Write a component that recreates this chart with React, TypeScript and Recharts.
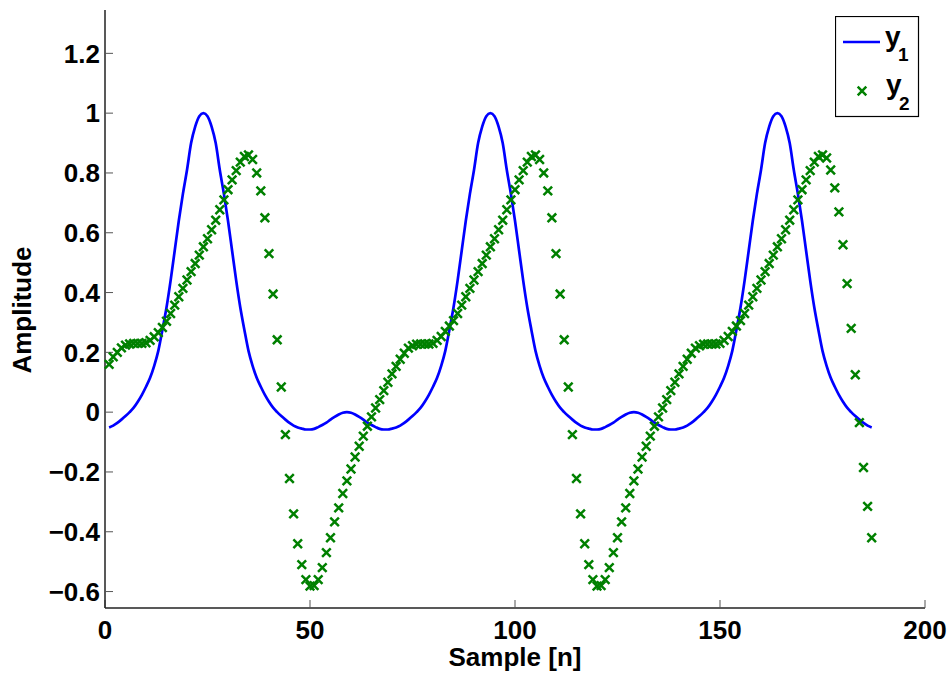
import { ComposedChart, Line, Scatter, XAxis, YAxis, Legend, Label } from 'recharts';

// y1: smooth pulse train (blue line), sample n = 1..187
const y1Values = [
  -0.051, -0.045, -0.036, -0.025, -0.013, 0.0, 0.015, 0.035, 0.058, 0.085,
  0.115, 0.155, 0.205, 0.275, 0.35, 0.44, 0.54, 0.64, 0.73, 0.81,
  0.9, 0.955, 0.99, 1.0, 0.99, 0.955, 0.9, 0.81, 0.73, 0.64,
  0.54, 0.44, 0.35, 0.275, 0.205, 0.155, 0.115, 0.085, 0.058, 0.035,
  0.015, 0.0, -0.013, -0.025, -0.036, -0.045, -0.051, -0.055, -0.058, -0.058,
  -0.056, -0.05, -0.043, -0.035, -0.025, -0.016, -0.008, -0.002, 0.0, -0.002,
  -0.008, -0.016, -0.025, -0.035, -0.043, -0.05, -0.056, -0.058, -0.058, -0.055,
  -0.051, -0.045, -0.036, -0.025, -0.013, 0.0, 0.015, 0.035, 0.058, 0.085,
  0.115, 0.155, 0.205, 0.275, 0.35, 0.44, 0.54, 0.64, 0.73, 0.81,
  0.9, 0.955, 0.99, 1.0, 0.99, 0.955, 0.9, 0.81, 0.73, 0.64,
  0.54, 0.44, 0.35, 0.275, 0.205, 0.155, 0.115, 0.085, 0.058, 0.035,
  0.015, 0.0, -0.013, -0.025, -0.036, -0.045, -0.051, -0.055, -0.058, -0.058,
  -0.056, -0.05, -0.043, -0.035, -0.025, -0.016, -0.008, -0.002, 0.0, -0.002,
  -0.008, -0.016, -0.025, -0.035, -0.043, -0.05, -0.056, -0.058, -0.058, -0.055,
  -0.051, -0.045, -0.036, -0.025, -0.013, 0.0, 0.015, 0.035, 0.058, 0.085,
  0.115, 0.155, 0.205, 0.275, 0.35, 0.44, 0.54, 0.64, 0.73, 0.81,
  0.9, 0.955, 0.99, 1.0, 0.99, 0.955, 0.9, 0.81, 0.73, 0.64,
  0.54, 0.44, 0.35, 0.275, 0.205, 0.155, 0.115, 0.085, 0.058, 0.035,
  0.015, 0.0, -0.013, -0.025, -0.036, -0.045, -0.051,
];

// y2: filtered output (green crosses), sample n = 1..187
const y2Values = [
  0.16, 0.185, 0.2, 0.215, 0.224, 0.228, 0.23, 0.23, 0.23, 0.232,
  0.24, 0.252, 0.266, 0.283, 0.304, 0.33, 0.358, 0.386, 0.414, 0.442,
  0.47, 0.497, 0.525, 0.553, 0.58, 0.61, 0.642, 0.677, 0.71, 0.744,
  0.777, 0.808, 0.836, 0.855, 0.86, 0.845, 0.8, 0.74, 0.65, 0.53,
  0.395, 0.242, 0.084, -0.075, -0.222, -0.34, -0.44, -0.51, -0.56, -0.582,
  -0.58, -0.56, -0.52, -0.47, -0.42, -0.367, -0.32, -0.272, -0.23, -0.19,
  -0.15, -0.114, -0.08, -0.047, -0.016, 0.014, 0.042, 0.072, 0.1, 0.128,
  0.153, 0.177, 0.197, 0.214, 0.222, 0.227, 0.228, 0.228, 0.228, 0.23,
  0.24, 0.253, 0.27, 0.288, 0.306, 0.33, 0.358, 0.386, 0.414, 0.442,
  0.47, 0.497, 0.525, 0.553, 0.58, 0.61, 0.642, 0.677, 0.71, 0.744,
  0.777, 0.808, 0.836, 0.855, 0.86, 0.845, 0.8, 0.74, 0.65, 0.53,
  0.395, 0.242, 0.084, -0.075, -0.222, -0.34, -0.44, -0.51, -0.56, -0.582,
  -0.58, -0.56, -0.52, -0.47, -0.42, -0.367, -0.32, -0.272, -0.23, -0.19,
  -0.15, -0.114, -0.08, -0.047, -0.016, 0.014, 0.042, 0.072, 0.1, 0.128,
  0.153, 0.177, 0.197, 0.214, 0.222, 0.227, 0.228, 0.228, 0.228, 0.23,
  0.24, 0.253, 0.27, 0.288, 0.306, 0.33, 0.358, 0.386, 0.414, 0.442,
  0.47, 0.497, 0.525, 0.553, 0.58, 0.61, 0.642, 0.677, 0.71, 0.744,
  0.777, 0.808, 0.836, 0.855, 0.86, 0.85, 0.81, 0.75, 0.67, 0.56,
  0.43, 0.28, 0.125, -0.035, -0.185, -0.315, -0.42,
];

const xTicks = [0, 50, 100, 150, 200];
const yTicks = [-0.6, -0.4, -0.2, 0, 0.2, 0.4, 0.6, 0.8, 1, 1.2];
const yTickLabels = ['\u22120.6', '\u22120.4', '\u22120.2', '0', '0.2', '0.4', '0.6', '0.8', '1', '1.2'];

const data = y1Values.map((y1, i) => ({ n: i + 1, y1, y2: y2Values[i] }));

const FONT = '"Liberation Sans", Arial, Helvetica, sans-serif';
const BLUE = '#0000ff';
const GREEN = '#008000';

function Cross({ cx, cy }: any) {
  if (cx == null || cy == null) return null;
  const s = 4.3;
  return (
    <path
      d={`M${cx - s},${cy - s}L${cx + s},${cy + s}M${cx - s},${cy + s}L${cx + s},${cy - s}`}
      stroke={GREEN}
      strokeWidth={2.5}
      fill='none'
    />
  );
}

// legend drawn like the matlab box
function LegendBox() {
  const textStyle = { fontFamily: FONT, fontWeight: 700, fill: '#000' };
  return (
    <svg width={85} height={102} style={{ display: 'block' }}>
      <rect x={0.5} y={0.5} width={83} height={100} fill='#fff' stroke='#000' strokeWidth={1.2} />
      <line x1={8} y1={26} x2={45} y2={26} stroke={BLUE} strokeWidth={2.5} />
      <text x={50} y={30} fontSize={28} {...textStyle}>y</text>
      <text x={63} y={45} fontSize={19} {...textStyle}>1</text>
      <Cross cx={27} cy={75} />
      <text x={51} y={78} fontSize={28} {...textStyle}>y</text>
      <text x={64} y={94} fontSize={19} {...textStyle}>2</text>
    </svg>
  );
}

const tickStyle = { fontFamily: FONT, fontWeight: 700, fontSize: 26, fill: '#000' };

export default function App() {
  return (
    <div style={{ position: 'absolute', left: 0, top: 0, width: 952, height: 674, background: '#fff' }}>
      <ComposedChart
        width={952}
        height={674}
        data={data}
        margin={{ top: 10, right: 27, bottom: 26, left: 0 }}
      >
        <XAxis
          dataKey='n'
          type='number'
          domain={[0, 200]}
          ticks={xTicks}
          interval={0}
          height={40}
          tickSize={-8}
          tickMargin={21}
          tick={tickStyle}
          axisLine={{ stroke: '#222', strokeWidth: 1.5 }}
          tickLine={{ stroke: '#555' }}
        >
          <Label
            content={() => (
              <text x={515} y={666} textAnchor='middle' fontSize={26} fontWeight={700} fontFamily={FONT} fill='#000'>
                Sample [n]
              </text>
            )}
          />
        </XAxis>
        <YAxis
          type='number'
          domain={[-0.655, 1.345]}
          ticks={yTicks}
          interval={0}
          width={105}
          tickSize={-8}
          tickMargin={13}
          tick={tickStyle}
          tickFormatter={(v: number) => yTickLabels[yTicks.indexOf(v)] ?? String(v)}
          axisLine={{ stroke: '#222', strokeWidth: 1.5 }}
          tickLine={{ stroke: '#555' }}
        >
          <Label
            content={() => (
              <text
                x={31}
                y={310}
                transform='rotate(-90 31 310)'
                textAnchor='middle'
                fontSize={26}
                fontWeight={700}
                fontFamily={FONT}
                fill='#000'
              >
                Amplitude
              </text>
            )}
          />
        </YAxis>
        <Legend
          layout='vertical'
          align='center'
          verticalAlign='middle'
          content={() => <LegendBox />}
          wrapperStyle={{ left: 835, top: 16, width: 85, height: 102 }}
        />
        <Line
          type='monotone'
          dataKey='y1'
          name='y1'
          stroke={BLUE}
          strokeWidth={2.7}
          dot={false}
          activeDot={false}
          isAnimationActive={false}
        />
        <Scatter dataKey='y2' name='y2' shape={<Cross />} isAnimationActive={false} />
      </ComposedChart>
    </div>
  );
}
